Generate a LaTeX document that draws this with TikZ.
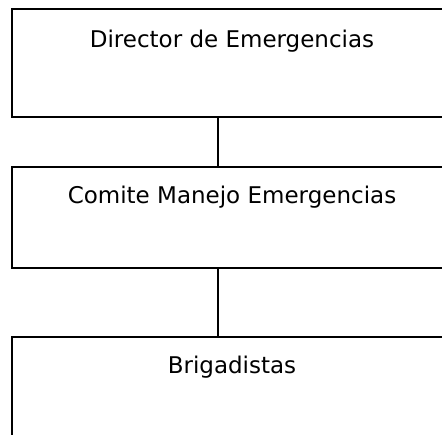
\documentclass[tikz,border=0pt]{standalone}
\usepackage{fontspec}
\setmainfont{DejaVu Sans}
\usetikzlibrary{positioning}

\begin{document}
\begin{tikzpicture}[x=1pt,y=-1pt,
    box/.style={draw, line width=1.5pt, minimum width=440pt, inner sep=0pt},
    title/.style={anchor=base, font=\fontsize{23}{27}\selectfont},
    link/.style={line width=1.5pt}]
    \useasboundingbox (0,0) rectangle (442,434);
    \clip (0,0) rectangle (442,434);

    % Boxes
    \node[box, minimum height=108pt] (director) at (232,63) {};
    \node[box, minimum height=101pt] (comite) at (232,217.5) {};
    \node[box, minimum height=105pt] (brigada) at (232,389.5) {};

    % Labels
    \node[title] (directortext) at (232,47) {Director de Emergencias};
    \node[title] (comitetext) at (232,203) {Comite Manejo Emergencias};
    \node[title] (brigadatext) at (232,373) {Brigadistas};

    % Connectors
    \coordinate (spine) at (218,0);
    \draw[link] (director.south -| spine) -- (comite.north -| spine);
    \draw[link] (comite.south -| spine) -- (brigada.north -| spine);
\end{tikzpicture}
\end{document}
